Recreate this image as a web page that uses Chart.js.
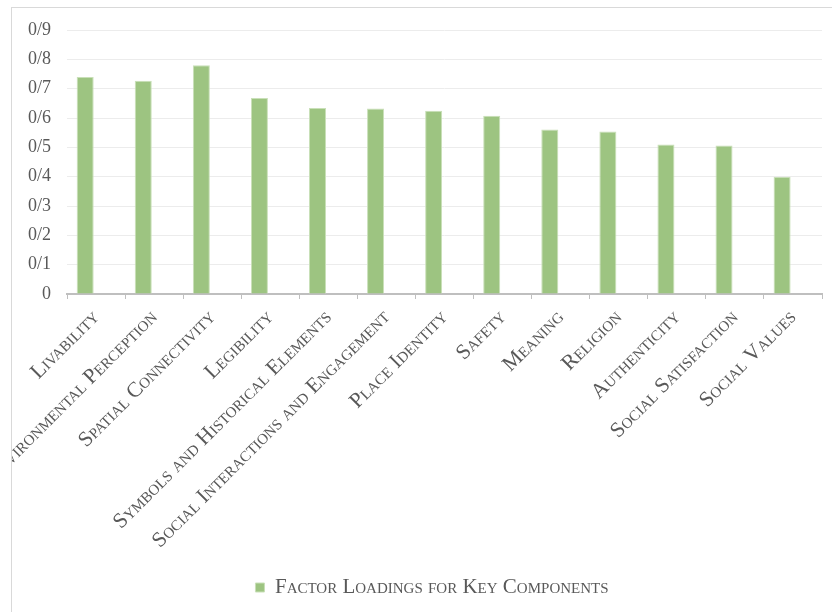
<!DOCTYPE html>
<html>
<head>
<meta charset="utf-8">
<script src="https://cdn.jsdelivr.net/npm/chart.js@4.4.1/dist/chart.umd.min.js"></script>
<style>
    html, body { margin: 0; padding: 0; background: #fff; overflow: hidden; }
    #frame {
        position: absolute; left: 11px; top: 7px;
        width: 860px; height: 640px;
        border: 1px solid #d9d9d9;
    }
    #chart { position: absolute; left: 0; top: 0; }
</style>
</head>
<body>
<div id="frame"><canvas id="chart" width="840" height="604"></canvas></div>
<script>
'use strict'

var components = [
    'Livability',
    'Environmental Perception',
    'Spatial Connectivity',
    'Legibility',
    'Symbols and Historical Elements',
    'Social Interactions and Engagement',
    'Place Identity',
    'Safety',
    'Meaning',
    'Religion',
    'Authenticity',
    'Social Satisfaction',
    'Social Values'
];

var loadings = [0.74, 0.727, 0.78, 0.668, 0.634, 0.632, 0.625, 0.608, 0.561, 0.554, 0.51, 0.506, 0.4];

// second (empty) series slot, keeps the bars left of the category centre
var emptySlot = [null, null, null, null, null, null, null, null, null, null, null, null, null];

var yTickLabels = ['0', '0/1', '0/2', '0/3', '0/4', '0/5', '0/6', '0/7', '0/8', '0/9'];

var seriesName = 'Factor Loadings for Key Components';

var textGrey = '#595959';
var serif = "'Liberation Serif', 'Times New Roman', serif";

// the legend is centred on the whole canvas, not on the padded area
var legendFullWidth = {
    id: 'legendFullWidth',
    afterLayout: function (chart) {
        var legend = chart.legend;
        if (!legend) return;
        legend.left = 0;
        legend.right = chart.width;
        legend.width = chart.width;
    }
};

var chartConfig = {
    type: 'bar',
    data: {
        labels: components,
        datasets: [{
            label: seriesName,
            data: loadings,
            backgroundColor: '#9dc481',
            borderColor: '#c9e0b8',
            borderWidth: 1,
            categoryPercentage: 0.748,
            barPercentage: 0.784,
        }, {
            label: '',
            data: emptySlot,
            categoryPercentage: 0.748,
            barPercentage: 0.784,
        }]
    },
    plugins: [legendFullWidth],
    options: {
        responsive: false,
        animation: false,
        layout: {
            padding: { left: 0, top: 22, right: 30, bottom: 4 }
        },
        plugins: {
            legend: {
                position: 'bottom',
                labels: {
                    boxWidth: 9,
                    boxHeight: 9,
                    padding: 10,
                    color: textGrey,
                    font: { family: serif, size: 21, weight: 'small-caps' },
                    filter: function (item) { return item.datasetIndex === 0; }
                }
            },
            tooltip: { enabled: false }
        },
        scales: {
            x: {
                afterFit: function (scale) {
                    // let the long rotated labels run off the left edge
                    scale.height = 273;
                    scale.paddingLeft = 0;
                    scale.paddingRight = 0;
                },
                grid: {
                    offset: true,
                    drawOnChartArea: false,
                    drawTicks: true,
                    tickLength: 5,
                    color: '#bfbfbf',
                },
                border: { display: true, color: '#bfbfbf', width: 2 },
                ticks: {
                    autoSkip: false,
                    minRotation: 45,
                    maxRotation: 45,
                    padding: 6,
                    color: textGrey,
                    font: { family: serif, size: 21.5, weight: 'small-caps' },
                }
            },
            y: {
                min: 0,
                max: 0.9,
                afterFit: function (scale) {
                    scale.paddingTop = 0;
                    scale.paddingBottom = 0;
                },
                grid: {
                    color: '#ececec',
                    drawTicks: false,
                },
                border: { display: false },
                ticks: {
                    stepSize: 0.1,
                    padding: 16,
                    color: textGrey,
                    font: { family: serif, size: 18 },
                    callback: function (value, index) { return yTickLabels[index]; }
                }
            }
        }
    }
};

var chartObj = new Chart(document.getElementById('chart'), chartConfig);
</script>
</body>
</html>
